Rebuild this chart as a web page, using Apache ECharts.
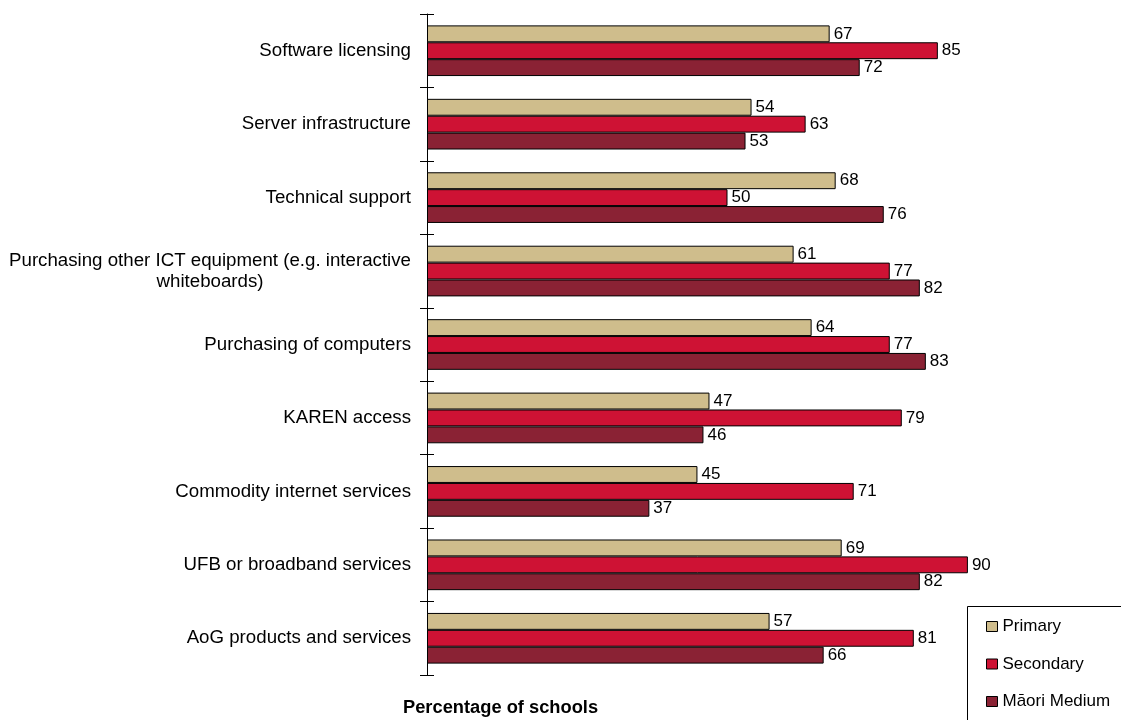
<!DOCTYPE html>
<html>
<head>
<meta charset="utf-8">
<script src="https://cdn.jsdelivr.net/npm/echarts@6/dist/echarts.min.js"></script>
<style>
  html, body { margin: 0; padding: 0; background: #fff; }
  #chart { width: 1121px; height: 720px; }
</style>
</head>
<body>
<div id="chart"></div>
<script>
// ICT spending areas, listed top to bottom
const categories = [
  'Software licensing',
  'Server infrastructure',
  'Technical support',
  'Purchasing other ICT equipment (e.g. interactive\nwhiteboards)',
  'Purchasing of computers',
  'KAREN access',
  'Commodity internet services',
  'UFB or broadband services',
  'AoG products and services'
];
const primary     = [67, 54, 68, 61, 64, 47, 45, 69, 57];
const secondary   = [85, 63, 50, 77, 77, 79, 71, 90, 81];
const maoriMedium = [72, 53, 76, 82, 83, 46, 37, 82, 66];
const seriesNames = ['Primary', 'Secondary', 'Māori Medium'];
const seriesColors = ['#CFBD8C', '#CE1234', '#8A2234'];

const FONT = '"Liberation Sans", Arial, sans-serif';
const CAT_SIZE = 18.7;

// width of the widest line of a wrapped label, so its lines can be centred
const measureCtx = document.createElement('canvas').getContext('2d');
measureCtx.font = CAT_SIZE + 'px ' + FONT;
function labelWidth(text) {
  return Math.max.apply(null, text.split('\n').map(l => measureCtx.measureText(l).width));
}

const chart = echarts.init(document.getElementById('chart'));

function barSeries(name, data, color) {
  return {
    name: name,
    type: 'bar',
    data: data,
    barGap: '0%',
    barCategoryGap: '31%',
    itemStyle: { color: color, borderColor: '#000', borderWidth: 1 },
    label: {
      show: true,
      position: 'right',
      distance: 4,
      color: '#000',
      fontFamily: FONT,
      fontSize: 17
    }
  };
}

chart.setOption({
  animation: false,
  grid: { left: 427, top: 14, width: 601, height: 661, containLabel: false },
  title: {
    text: 'Percentage of schools',
    left: 398,
    top: 694,
    textStyle: { fontFamily: FONT, fontSize: 18.3, fontWeight: 'bold', color: '#000' }
  },
  graphic: [{
    type: 'rect',
    shape: { x: 967.5, y: 606.5, width: 200, height: 200 },
    style: { fill: '#fff', stroke: '#000', lineWidth: 1 },
    z: 0
  }],
  legend: {
    orient: 'vertical',
    left: 986,
    top: 618,
    padding: 0,
    itemWidth: 11,
    itemHeight: 10,
    itemGap: 20.5,
    icon: 'rect',
    z: 10,
    textStyle: { fontFamily: FONT, fontSize: 17, color: '#000' },
    data: seriesNames.map((n, i) => ({
      name: n,
      itemStyle: { color: seriesColors[i], borderColor: '#000', borderWidth: 1 }
    }))
  },
  xAxis: {
    type: 'value',
    min: 0,
    max: 100,
    show: false
  },
  yAxis: [
    {
      type: 'category',
      data: categories,
      inverse: true,
      axisLine: { lineStyle: { color: '#000', width: 1 } },
      axisTick: { show: true, length: 7, lineStyle: { color: '#000' } },
      axisLabel: {
        margin: 16,
        color: '#000',
        fontFamily: FONT,
        fontSize: CAT_SIZE,
        align: 'right',
        lineHeight: 21,
        formatter: function (v) {
          if (v.indexOf('\n') < 0) return v;
          return v.split('\n').map(l => '{c|' + l + '}').join('\n');
        },
        rich: {
          c: {
            width: labelWidth(categories[3]),
            align: 'center',
            fontFamily: FONT,
            fontSize: CAT_SIZE,
            lineHeight: 21,
            color: '#000'
          }
        }
      },
      splitLine: { show: false }
    },
    {
      type: 'category',
      data: categories,
      inverse: true,
      position: 'left',
      axisLine: { show: false },
      axisTick: { show: true, inside: true, length: 7, lineStyle: { color: '#000' } },
      axisLabel: { show: false },
      splitLine: { show: false }
    }
  ],
  series: [
    barSeries(seriesNames[0], primary, seriesColors[0]),
    barSeries(seriesNames[1], secondary, seriesColors[1]),
    barSeries(seriesNames[2], maoriMedium, seriesColors[2])
  ]
});
</script>
</body>
</html>
